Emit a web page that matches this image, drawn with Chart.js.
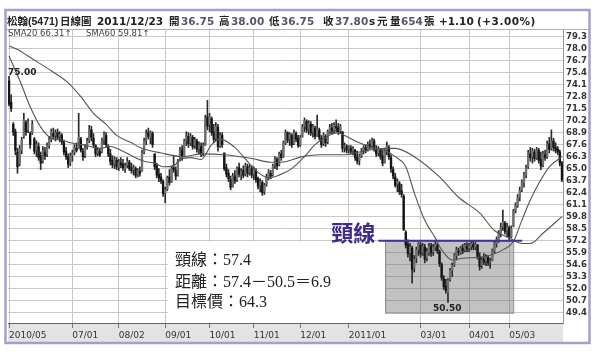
<!DOCTYPE html>
<html><head><meta charset="utf-8">
<script src="https://cdn.jsdelivr.net/npm/chart.js@4.4.0/dist/chart.umd.min.js"></script>
<style>
html,body{margin:0;padding:0;background:#fff;}
#wrap{position:relative;width:600px;height:357px;overflow:hidden;}
canvas{position:absolute;left:0;top:0;}
.t{position:absolute;white-space:nowrap;font-family:"DejaVu Sans","Noto Sans CJK TC",sans-serif;font-weight:bold;font-size:10.5px;color:#222;top:15px;line-height:12px;}
.v{color:#55556a;}
.sm{font-family:"Liberation Sans",sans-serif;font-size:10.5px;}
.sma{position:absolute;top:29px;white-space:nowrap;font-family:"DejaVu Sans",sans-serif;font-size:8.5px;color:#444;line-height:9px;}
.note{position:absolute;left:175px;white-space:nowrap;font-family:"Liberation Serif","Noto Sans CJK TC",serif;font-size:16px;color:#222;line-height:20px;}
.neck{position:absolute;white-space:nowrap;font-family:"Noto Sans CJK TC",sans-serif;font-weight:bold;font-size:22px;color:#3f2a8c;line-height:22px;}
.pk{position:absolute;white-space:nowrap;font-family:"DejaVu Sans",sans-serif;font-weight:bold;font-size:9px;color:#222;line-height:10px;}
</style></head>
<body>
<div id="wrap">
<canvas id="c" width="600" height="357"></canvas>
<span class="t" style="left:7px">松翰<span class="sm">(5471)</span></span>
<span class="t" style="left:60px">日線圖</span>
<span class="t" style="left:97px">2011/12/23</span>
<span class="t" style="left:169px">開</span><span class="t v" style="left:181px">36.75</span>
<span class="t" style="left:219px">高</span><span class="t v" style="left:231px">38.00</span>
<span class="t" style="left:269px">低</span><span class="t v" style="left:281px">36.75</span>
<span class="t" style="left:323px">收</span><span class="t v" style="left:335px">37.80</span>
<span class="t" style="left:369px">s</span><span class="t" style="left:377px">元</span>
<span class="t" style="left:390px">量</span><span class="t v" style="left:401px">654</span><span class="t" style="left:424px">張</span>
<span class="t" style="left:439px">+1.10</span>
<span class="t" style="left:477px;letter-spacing:0.5px">(+3.00%)</span>
<span class="sma" style="left:8px">SMA20 66.31↑</span>
<span class="sma" style="left:86px">SMA60 59.81↑</span>
<div class="note" style="top:250px">頸線：57.4</div>
<div class="note" style="top:272px">距離：57.4－50.5＝6.9</div>
<div class="note" style="top:292px">目標價：64.3</div>
<div class="neck" id="neckLbl">頸線</div>
<div class="pk" id="lblHi"></div>
<div class="pk" id="lblLo"></div>
</div>
<script>
const opens = [74.5,72.2,69.8,69.0,66.8,65.5,67.0,68.5,70.0,69.2,
68.8,68.9,68.2,67.0,67.4,66.4,65.8,66.8,66.6,67.5,
68.2,68.8,68.6,68.9,68.5,68.6,67.8,66.9,66.3,65.6,
66.4,66.8,67.2,67.3,68.2,66.9,66.4,67.4,68.0,69.2,
68.3,67.5,66.7,66.9,66.8,68.1,68.6,67.4,66.6,65.9,
65.5,65.9,65.2,65.6,65.5,65.0,65.4,65.7,65.1,64.9,
65.0,64.4,64.7,64.8,66.8,68.1,68.9,68.4,68.8,66.6,
65.3,64.4,64.1,63.6,62.4,62.8,64.1,63.6,65.1,64.8,
64.3,65.9,67.0,66.4,68.1,68.5,67.8,68.4,67.5,68.0,
67.2,67.4,66.7,67.6,70.6,69.8,70.4,69.0,68.3,69.5,
67.5,68.6,66.7,65.1,64.5,63.8,63.1,64.2,63.8,65.1,
64.4,64.8,64.4,65.2,64.6,65.0,64.4,64.8,63.9,63.2,
63.5,62.5,63.3,64.0,64.5,64.3,65.4,66.0,65.4,66.6,
66.3,67.8,68.9,68.2,68.6,67.7,68.8,68.3,67.6,68.5,
69.6,70.1,69.3,69.8,69.0,69.4,68.6,69.2,68.3,67.7,
68.5,67.9,69.0,69.4,69.2,69.6,69.4,69.1,69.0,67.3,
67.4,67.1,67.2,67.0,67.0,66.2,65.9,66.4,67.0,67.3,
67.1,67.6,67.5,68.0,67.2,66.7,67.0,66.4,65.7,67.0,
67.3,66.2,64.9,64.1,63.3,63.4,62.6,62.0,58.1,56.8,
55.9,56.4,54.2,55.3,56.2,56.7,55.9,56.5,55.3,55.9,
56.6,56.0,56.5,56.7,56.0,54.6,53.1,52.3,51.6,53.0,
54.0,54.6,55.6,56.1,55.9,56.4,56.2,56.6,56.4,56.6,
56.8,56.5,56.7,55.5,54.5,55.2,55.0,55.4,54.9,55.1,
56.1,56.9,57.3,58.0,58.7,59.1,58.3,58.6,57.6,58.8,
60.5,61.0,61.9,62.7,63.5,64.3,65.2,66.6,66.3,66.8,
66.2,67.0,66.0,65.4,66.5,66.3,67.7,67.2,68.0,67.3,
67.1,66.8,65.6];
const highs = [75.0,73.0,70.0,69.3,67.2,67.5,68.4,71.0,70.2,70.4,
69.0,70.2,68.4,68.0,67.8,66.8,67.4,67.3,67.8,68.5,
69.3,69.4,69.2,69.3,69.0,68.8,68.1,67.3,66.6,66.7,
67.0,67.6,67.8,71.0,68.4,67.2,67.6,68.3,69.7,69.6,
68.8,67.6,67.3,67.2,68.3,69.0,68.9,67.6,67.1,66.4,
66.3,66.2,66.0,66.2,66.0,65.6,66.2,65.9,65.6,65.4,
65.2,65.0,65.2,67.0,68.3,69.2,69.4,69.1,69.0,66.6,
65.6,65.0,64.5,63.8,63.0,64.2,64.9,65.3,66.4,65.2,
66.0,67.3,67.5,68.2,69.0,68.9,68.8,68.6,68.4,68.2,
67.9,67.8,67.8,70.8,72.4,71.0,70.6,69.8,70.0,69.8,
68.9,68.9,66.7,65.5,64.9,64.2,64.5,64.8,65.2,65.6,
65.0,65.3,65.6,65.5,65.4,65.3,65.2,65.0,64.1,63.9,
63.7,63.4,64.4,64.9,64.8,65.5,66.3,66.2,66.8,67.0,
68.0,69.2,69.0,68.9,68.8,69.2,69.0,68.6,68.6,69.8,
70.5,70.3,70.2,70.1,69.8,69.6,70.8,69.4,68.6,68.9,
68.7,69.2,69.8,69.9,70.0,70.3,69.9,69.8,69.0,67.8,
67.6,67.5,67.5,67.4,67.1,66.9,66.6,67.2,67.5,67.6,
67.9,68.1,68.3,68.2,67.5,67.4,67.2,67.0,67.2,67.9,
67.5,66.5,65.2,64.5,63.9,63.6,63.3,62.2,58.3,57.3,
56.9,56.6,55.6,56.5,57.0,57.0,56.9,56.8,56.4,56.9,
56.9,56.8,57.1,56.9,56.2,54.8,53.4,53.0,53.1,54.2,
54.8,55.8,56.5,56.4,56.6,56.8,56.9,57.0,56.9,57.1,
57.1,57.0,56.8,55.9,55.4,55.8,55.7,55.6,55.3,56.3,
57.2,57.6,58.3,59.1,60.5,59.3,59.1,58.8,58.8,60.6,
61.3,62.2,63.0,63.8,64.6,65.4,67.0,67.3,67.2,67.1,
67.3,67.2,66.8,66.9,67.0,68.0,68.4,69.2,68.3,67.8,
67.4,67.0,65.8];
const lows = [71.8,71.2,68.6,66.5,64.5,65.3,66.6,68.3,68.6,68.9,
67.2,68.7,66.6,66.3,65.9,64.9,65.6,66.0,66.3,67.2,
67.9,68.2,68.0,68.2,67.9,67.6,66.5,66.0,65.1,65.3,
65.8,66.5,66.8,67.2,66.8,65.9,66.2,67.1,67.8,68.0,
67.3,66.3,66.4,66.3,66.7,67.6,67.3,66.3,65.4,65.1,
65.0,64.9,64.8,65.1,64.8,64.6,65.1,64.8,64.5,64.3,
64.0,64.1,64.2,64.7,66.6,67.6,68.2,67.7,67.3,64.9,
64.0,63.6,63.4,62.0,61.3,62.6,63.2,63.5,64.6,63.8,
64.2,65.8,65.9,66.3,67.5,67.3,67.5,67.1,67.2,66.8,
66.6,66.3,66.4,67.5,69.2,69.0,68.6,67.8,68.0,66.9,
67.3,67.3,64.8,64.1,63.6,62.7,63.0,63.4,63.6,64.1,
63.8,64.0,64.2,64.1,64.3,64.0,63.8,63.5,62.8,62.5,
62.1,62.2,63.1,63.8,63.9,64.2,65.0,64.9,65.3,65.9,
66.2,67.6,67.8,67.5,67.3,67.6,67.9,67.3,67.4,68.4,
69.0,68.9,68.7,68.6,68.4,68.2,68.5,68.1,67.3,67.5,
67.4,67.7,68.8,68.8,68.9,69.0,68.7,68.8,66.8,66.8,
66.7,66.7,66.6,66.5,65.9,65.5,65.4,66.2,66.6,66.7,
66.9,67.1,67.2,66.9,66.3,66.4,66.0,65.3,65.6,66.5,
66.0,64.6,63.9,63.0,62.5,62.2,61.9,58.3,56.4,55.4,
55.0,52.6,53.8,54.8,55.6,55.4,55.6,54.8,55.0,55.6,
55.5,55.6,56.1,55.8,54.4,52.9,51.9,51.5,50.5,52.8,
53.3,54.4,55.1,55.6,55.7,55.8,56.0,56.0,56.0,56.2,
56.2,56.2,55.2,54.0,54.2,54.6,54.5,54.5,54.2,55.0,
55.9,56.5,57.0,57.6,58.3,57.9,57.6,57.3,57.5,58.7,
60.2,60.8,61.5,62.5,63.0,64.0,65.0,65.8,65.6,65.8,
66.0,65.6,64.9,65.2,65.9,66.1,66.7,67.0,66.9,66.7,
66.5,65.3,63.6];
const closes = [72.0,71.5,69.0,67.0,65.2,67.2,68.1,70.3,69.0,70.0,
67.6,69.8,66.9,67.6,66.2,65.6,67.0,66.4,67.5,68.2,
69.0,68.5,68.9,68.4,68.7,67.9,66.8,66.3,65.5,66.4,
66.7,67.3,67.0,68.4,67.0,66.3,67.3,68.0,69.3,68.4,
67.6,66.6,67.0,66.5,68.0,68.7,67.6,66.6,65.8,65.4,
66.0,65.2,65.7,65.4,65.1,65.3,65.8,65.0,64.8,65.1,
64.3,64.8,64.5,66.7,68.0,68.8,68.5,68.9,67.6,65.2,
64.3,64.0,63.7,62.3,62.7,64.0,63.5,65.0,64.9,64.2,
65.8,67.0,66.3,68.0,68.6,67.7,68.5,67.4,68.1,67.1,
67.5,66.6,67.5,70.5,69.6,70.6,68.9,68.2,69.6,67.4,
68.6,67.6,65.0,64.4,63.9,63.0,64.2,63.7,65.0,64.4,
64.7,64.3,65.3,64.5,65.1,64.3,64.9,63.8,63.1,63.6,
62.4,63.2,64.1,64.6,64.2,65.3,66.0,65.3,66.6,66.2,
67.8,68.9,68.1,68.7,67.6,68.9,68.2,67.5,68.4,69.5,
70.2,69.2,69.9,68.9,69.5,68.5,69.3,68.4,67.6,68.6,
67.8,69.0,69.5,69.1,69.7,69.4,69.0,69.6,67.2,67.5,
67.0,67.3,66.9,67.1,66.2,65.8,66.4,66.9,67.3,67.0,
67.6,67.4,68.0,67.2,66.6,67.1,66.3,65.6,66.9,67.4,
66.3,65.0,64.2,63.2,63.6,62.5,62.2,58.4,56.7,55.8,
56.5,54.1,55.2,56.2,56.8,55.8,56.6,55.2,56.0,56.6,
55.9,56.5,56.8,56.1,54.7,53.2,52.2,51.8,52.9,54.0,
54.5,55.6,56.2,55.9,56.4,56.1,56.7,56.3,56.6,56.9,
56.5,56.8,55.5,54.4,55.1,54.9,55.4,54.8,55.0,56.1,
56.9,57.3,58.0,58.6,59.2,58.2,58.7,57.6,58.5,60.4,
61.0,61.9,62.6,63.5,64.3,65.1,66.7,66.2,66.9,66.1,
67.0,65.9,65.3,66.6,66.2,67.7,67.1,68.0,67.3,67.0,
66.8,65.6,63.8];

const sma20Idx = [0,5,10,15,20,25,29,35,43,48,53,59,64,69,73,78,81,86,91,96,100,107,111,118,123,128,134,140,145,150,156,159,166,172,178,183,188,192,197,202,205,210,215,223,229,234,239,243,247,251,256,262];
const sma20Val = [77.2,74.6,71.7,69.5,68.3,68.1,67.8,67.6,67.2,67.4,67.0,66.3,65.8,65.6,65.2,65.3,66.0,66.2,66.0,67.6,68.2,67.3,66.3,64.6,64.0,64.3,65.0,66.3,67.6,68.4,68.9,68.6,67.8,67.3,67.0,66.3,65.2,62.4,59.4,57.5,56.2,55.1,55.3,55.4,55.7,56.2,57.1,59.4,61.6,63.4,65.2,66.3];
const sma60Idx = [0,4,11,20,28,34,40,46,51,58,62,72,83,91,102,115,124,129,139,147,159,170,178,183,192,204,213,223,230,237,243,247,253,262];
const sma60Val = [78.3,77.9,76.9,75.6,74.3,72.8,71.0,69.8,68.6,67.8,67.3,66.7,66.3,66.6,66.5,66.1,65.7,65.7,66.3,66.5,66.5,67.0,67.2,67.2,66.3,64.1,61.9,60.2,58.3,57.5,56.9,56.9,58.0,59.8];

const xTickIdx = [0,30,52,74,95,116,138,161,195,218,237];
const xTickLabels = ['2010/05','07/01','08/02','09/01','10/01','11/01','12/01','2011/01','03/01','04/01','05/03'];
const yTickLabels = ['49.4','50.7','52.0','53.3','54.6','55.9','57.2','58.5','59.8','61.1','62.4','63.7','65.0','66.3','67.6','68.9','70.2','71.5','72.8','74.1','75.4','76.7','78.0','79.3'];
const yTickVals = yTickLabels.map(Number);

const necklineY = 57.2;
const necklineX = [175, 243.2];
const boxX = [178.2, 238.9];
const boxY = [49.4, 57.2];
const yRange = [48.28, 80.13];

const N = closes.length;
const wickData = highs.map((h, i) => ({x: i, y: [lows[i], h]}));
const bodyData = opens.map((o, i) => ({x: i, y: [Math.min(o, closes[i]), Math.max(o, closes[i])]}));
const bodyColors = opens.map((o, i) => closes[i] >= o ? '#707070' : '#151515');
const sma20Data = sma20Idx.map((x, i) => ({x, y: sma20Val[i]}));
const sma60Data = sma60Idx.map((x, i) => ({x, y: sma60Val[i]}));

const decor = {
  id: 'decor',
  beforeDraw(c) {
    const {ctx, chartArea: a} = c;
    ctx.save();
    ctx.fillStyle = '#fff';
    ctx.fillRect(0, 0, c.width, c.height);
    ctx.fillStyle = '#e3e3e3';
    ctx.fillRect(a.left, a.bottom, a.right - a.left, 20);
    ctx.restore();
  },
  beforeDatasetsDraw(c) {
    const {ctx, chartArea: a, scales: {x, y}} = c;
    ctx.save();
    const bx0 = x.getPixelForValue(boxX[0]), bx1 = x.getPixelForValue(boxX[1]);
    const by0 = y.getPixelForValue(boxY[1]), by1 = y.getPixelForValue(boxY[0]);
    ctx.fillStyle = '#fff';
    ctx.fillRect(168, by0 + 1, bx0 - 168, a.bottom - by0 - 1.5);
    ctx.fillStyle = 'rgba(110,110,110,0.42)';
    ctx.fillRect(bx0, by0, bx1 - bx0, by1 - by0);
    ctx.strokeStyle = '#8a8a8a';
    ctx.lineWidth = 1;
    ctx.strokeRect(bx0 + 0.5, by0 + 0.5, bx1 - bx0, by1 - by0);
    ctx.restore();
  },
  afterDatasetsDraw(c) {
    const {ctx, scales: {x, y}} = c;
    ctx.save();
    ctx.strokeStyle = '#46309a';
    ctx.lineWidth = 2;
    const yy = y.getPixelForValue(necklineY);
    ctx.beginPath();
    ctx.moveTo(x.getPixelForValue(necklineX[0]), yy);
    ctx.lineTo(x.getPixelForValue(necklineX[1]), yy);
    ctx.stroke();
    ctx.restore();
  },
  afterDraw(c) {
    const {ctx} = c;
    ctx.save();
    ctx.strokeStyle = '#b0b0b0';
    ctx.lineWidth = 1;
    ctx.beginPath(); ctx.moveTo(6, 29.5); ctx.lineTo(589, 29.5); ctx.stroke();
    ctx.strokeStyle = '#a79ecb';
    ctx.lineWidth = 2.5;
    ctx.strokeRect(5.5, 10, 584, 333);
    ctx.restore();
  }
};

const chart = new Chart(document.getElementById('c'), {
  data: {
    datasets: [
      {type: 'line', data: sma20Data, borderColor: '#555', borderWidth: 1.1, pointRadius: 0, cubicInterpolationMode: 'monotone', order: 0},
      {type: 'line', data: sma60Data, borderColor: '#555', borderWidth: 1.1, pointRadius: 0, cubicInterpolationMode: 'monotone', order: 0},
      {type: 'bar', data: bodyData, backgroundColor: bodyColors, barThickness: 1.7, grouped: false, order: 1},
      {type: 'bar', data: wickData, backgroundColor: '#2a2a2a', barThickness: 1, grouped: false, order: 2}
    ]
  },
  options: {
    responsive: false,
    animation: false,
    events: [],
    layout: {padding: {left: 8, right: 12, top: 29, bottom: 14}},
    plugins: {legend: {display: false}, tooltip: {enabled: false}},
    scales: {
      x: {
        type: 'linear', min: -0.5, max: N - 0.5, offset: false,
        afterBuildTicks: s => { s.ticks = xTickIdx.map(v => ({value: v})); },
        afterFit: s => { s.height = 20; s.paddingLeft = 0; s.paddingRight = 0; },
        ticks: {
          autoSkip: false, maxRotation: 0, minRotation: 0, align: 'start', padding: 2,
          color: '#333', font: {family: 'DejaVu Sans', size: 9},
          callback: v => { const k = xTickIdx.indexOf(v); return k >= 0 ? xTickLabels[k] : ''; }
        },
        grid: {offset: false, color: '#c8c8c8', tickColor: '#777', tickLength: 5},
        border: {color: '#666'}
      },
      y: {
        position: 'right', min: yRange[0], max: yRange[1],
        afterBuildTicks: s => { s.ticks = yTickVals.map(v => ({value: v})); },
        afterFit: s => { s.width = 25; },
        ticks: {
          autoSkip: false, padding: 3, color: '#333', font: {family: 'DejaVu Sans', size: 8.5, weight: 'bold'},
          callback: (v, i) => yTickLabels[i]
        },
        grid: {color: '#c8c8c8', drawTicks: false},
        border: {color: '#999'}
      }
    }
  },
  plugins: [decor]
});

(function () {
  const xs = chart.scales.x, ys = chart.scales.y;
  const hiVal = Math.max(...highs), hiIdx = highs.indexOf(hiVal);
  const loVal = Math.min(...lows), loIdx = lows.indexOf(loVal);
  const hi = document.getElementById('lblHi');
  hi.textContent = hiVal.toFixed(2);
  hi.style.left = (xs.getPixelForValue(hiIdx) - 1) + 'px';
  hi.style.top = (ys.getPixelForValue(hiVal) - 9) + 'px';
  const lo = document.getElementById('lblLo');
  lo.textContent = loVal.toFixed(2);
  lo.style.left = (xs.getPixelForValue(loIdx) - 15) + 'px';
  lo.style.top = (ys.getPixelForValue(loVal) + 0.5) + 'px';
  const nk = document.getElementById('neckLbl');
  nk.style.left = (xs.getPixelForValue(necklineX[0]) - 47) + 'px';
  nk.style.top = (ys.getPixelForValue(necklineY) - 21) + 'px';
})();
</script>
</body></html>
